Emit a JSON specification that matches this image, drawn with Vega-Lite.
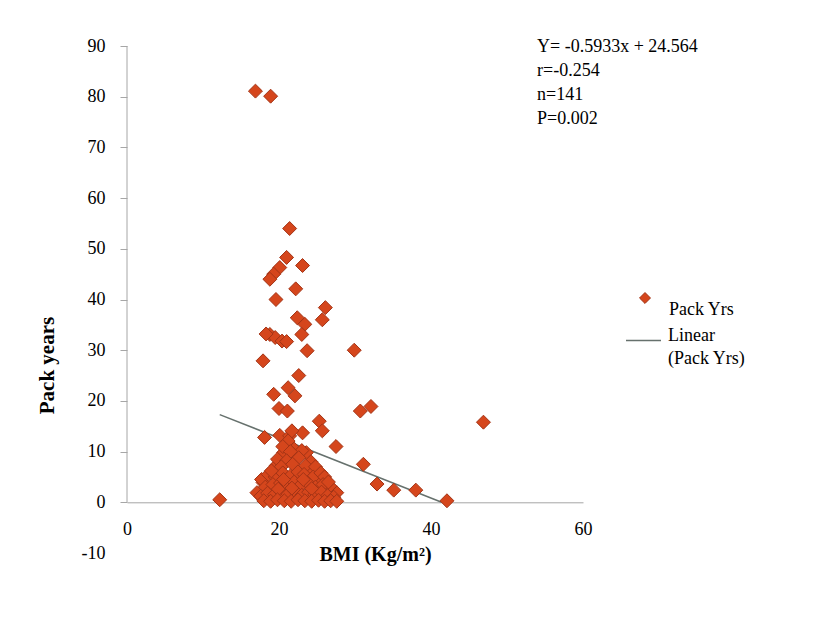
{
  "$schema": "https://vega.github.io/schema/vega-lite/v6.json",
  "width": 456,
  "height": 507,
  "autosize": {"type": "none"},
  "padding": {"left": 127, "top": 46, "right": 233, "bottom": 64},
  "background": "white",
  "config": {
    "view": {"stroke": null},
    "font": "Liberation Serif",
    "style": {"guide-label": {"lineHeight": 23}}
  },
  "datasets": {
    "points": [
      {"bmi": 16.9, "packyrs": 81.1}, {"bmi": 18.9, "packyrs": 80.1}, {"bmi": 21.4, "packyrs": 54.0},
      {"bmi": 21.0, "packyrs": 48.3}, {"bmi": 20.1, "packyrs": 46.3}, {"bmi": 19.3, "packyrs": 45.0},
      {"bmi": 18.8, "packyrs": 44.0}, {"bmi": 23.1, "packyrs": 46.7}, {"bmi": 22.2, "packyrs": 42.1},
      {"bmi": 19.6, "packyrs": 40.0}, {"bmi": 26.1, "packyrs": 38.4}, {"bmi": 25.7, "packyrs": 36.0},
      {"bmi": 22.4, "packyrs": 36.4}, {"bmi": 23.4, "packyrs": 35.1}, {"bmi": 23.0, "packyrs": 33.1},
      {"bmi": 18.8, "packyrs": 33.1}, {"bmi": 19.5, "packyrs": 32.5}, {"bmi": 20.4, "packyrs": 31.8},
      {"bmi": 18.3, "packyrs": 33.2}, {"bmi": 21.0, "packyrs": 31.7}, {"bmi": 23.7, "packyrs": 29.9},
      {"bmi": 17.9, "packyrs": 27.9}, {"bmi": 22.6, "packyrs": 25.0}, {"bmi": 19.3, "packyrs": 21.3},
      {"bmi": 21.2, "packyrs": 22.6}, {"bmi": 22.1, "packyrs": 21.0}, {"bmi": 20.0, "packyrs": 18.5},
      {"bmi": 21.1, "packyrs": 18.0}, {"bmi": 25.3, "packyrs": 16.0}, {"bmi": 25.7, "packyrs": 14.1},
      {"bmi": 27.5, "packyrs": 11.0}, {"bmi": 18.1, "packyrs": 12.8}, {"bmi": 20.1, "packyrs": 13.2},
      {"bmi": 21.4, "packyrs": 13.1}, {"bmi": 23.1, "packyrs": 13.7}, {"bmi": 19.6, "packyrs": 7.2},
      {"bmi": 12.2, "packyrs": 0.5}, {"bmi": 17.1, "packyrs": 1.9}, {"bmi": 17.9, "packyrs": 3.9},
      {"bmi": 29.9, "packyrs": 30.0}, {"bmi": 30.7, "packyrs": 18.0}, {"bmi": 32.1, "packyrs": 18.9},
      {"bmi": 46.9, "packyrs": 15.8}, {"bmi": 31.1, "packyrs": 7.5}, {"bmi": 32.9, "packyrs": 3.6},
      {"bmi": 35.1, "packyrs": 2.4}, {"bmi": 38.0, "packyrs": 2.4}, {"bmi": 42.1, "packyrs": 0.3},
      {"bmi": 27.6, "packyrs": 1.9}, {"bmi": 26.7, "packyrs": 3.2}, {"bmi": 21.2, "packyrs": 12.1},
      {"bmi": 20.6, "packyrs": 9.8}, {"bmi": 22.3, "packyrs": 9.5}, {"bmi": 23.6, "packyrs": 9.8},
      {"bmi": 24.1, "packyrs": 6.5}, {"bmi": 17.7, "packyrs": 4.5}, {"bmi": 25.4, "packyrs": 4.5},
      {"bmi": 21.7, "packyrs": 14.1},
      {"bmi": 20.5, "packyrs": 11.0}, {"bmi": 22.0, "packyrs": 10.5}, {"bmi": 23.0, "packyrs": 10.2},
      {"bmi": 21.5, "packyrs": 10.0}, {"bmi": 19.8, "packyrs": 8.5}, {"bmi": 21.0, "packyrs": 8.2},
      {"bmi": 22.6, "packyrs": 8.8}, {"bmi": 24.2, "packyrs": 8.0}, {"bmi": 20.3, "packyrs": 7.0},
      {"bmi": 23.5, "packyrs": 7.2}, {"bmi": 21.8, "packyrs": 7.5}, {"bmi": 24.8, "packyrs": 7.0},
      {"bmi": 18.6, "packyrs": 5.5}, {"bmi": 19.5, "packyrs": 5.0}, {"bmi": 20.5, "packyrs": 5.8},
      {"bmi": 21.5, "packyrs": 5.2}, {"bmi": 22.5, "packyrs": 6.0}, {"bmi": 23.3, "packyrs": 5.5},
      {"bmi": 24.5, "packyrs": 5.0}, {"bmi": 25.5, "packyrs": 5.8}, {"bmi": 26.0, "packyrs": 5.0},
      {"bmi": 19.0, "packyrs": 6.2}, {"bmi": 18.2, "packyrs": 3.0}, {"bmi": 19.2, "packyrs": 3.5},
      {"bmi": 20.2, "packyrs": 3.8}, {"bmi": 21.0, "packyrs": 3.2}, {"bmi": 22.0, "packyrs": 4.0},
      {"bmi": 22.8, "packyrs": 3.3}, {"bmi": 23.8, "packyrs": 3.8}, {"bmi": 24.8, "packyrs": 3.0},
      {"bmi": 25.8, "packyrs": 3.5}, {"bmi": 26.5, "packyrs": 4.0}, {"bmi": 20.6, "packyrs": 4.5},
      {"bmi": 23.2, "packyrs": 4.5}, {"bmi": 17.6, "packyrs": 1.2}, {"bmi": 18.5, "packyrs": 1.8},
      {"bmi": 19.4, "packyrs": 1.5}, {"bmi": 20.3, "packyrs": 2.0}, {"bmi": 21.2, "packyrs": 1.6},
      {"bmi": 22.1, "packyrs": 2.2}, {"bmi": 23.0, "packyrs": 1.4}, {"bmi": 23.9, "packyrs": 2.0},
      {"bmi": 24.7, "packyrs": 1.5}, {"bmi": 25.6, "packyrs": 2.0}, {"bmi": 26.4, "packyrs": 1.3},
      {"bmi": 27.2, "packyrs": 1.0}, {"bmi": 19.9, "packyrs": 2.6}, {"bmi": 21.7, "packyrs": 2.8},
      {"bmi": 24.3, "packyrs": 2.7}, {"bmi": 18.0, "packyrs": 0.3}, {"bmi": 18.9, "packyrs": 0.2},
      {"bmi": 19.8, "packyrs": 0.5}, {"bmi": 20.7, "packyrs": 0.3}, {"bmi": 21.6, "packyrs": 0.2},
      {"bmi": 22.5, "packyrs": 0.5}, {"bmi": 23.4, "packyrs": 0.3}, {"bmi": 24.3, "packyrs": 0.2},
      {"bmi": 25.2, "packyrs": 0.4}, {"bmi": 26.0, "packyrs": 0.2}, {"bmi": 26.8, "packyrs": 0.3},
      {"bmi": 27.6, "packyrs": 0.2}
    ],
    "trend": [
      {"bmi": 12.2, "packyrs": 17.3},
      {"bmi": 41.4, "packyrs": 0.0}
    ],
    "stats": [
      {"lines": ["Y= -0.5933x + 24.564", "r=-0.254", "n=141", "P=0.002"]}
    ]
  },
  "layer": [
    {
      "data": {"values": [{}]},
      "mark": {"type": "rule", "color": "#a6a6a6", "strokeWidth": 1},
      "encoding": {
        "x": {"datum": 0, "type": "quantitative"},
        "y": {"datum": 0, "type": "quantitative"},
        "y2": {"datum": 90}
      }
    },
    {
      "data": {"name": "trend"},
      "mark": {"type": "line", "strokeWidth": 1.5},
      "encoding": {
        "x": {"field": "bmi", "type": "quantitative"},
        "y": {"field": "packyrs", "type": "quantitative"},
        "stroke": {
          "datum": "Linear (Pack Yrs)",
          "scale": {"range": ["#66716d"]},
          "legend": {
            "orient": "none", "legendX": 498, "legendY": 276, "title": null, "padding": 0,
            "symbolType": "stroke", "symbolSize": 1225, "symbolStrokeWidth": 1.5,
            "labelExpr": "['Linear', '(Pack Yrs)']",
            "labelFont": "Liberation Serif", "labelFontSize": 18, "labelColor": "black",
            "labelOffset": 6, "labelBaseline": "alphabetic", "labelLimit": 0
          }
        }
      }
    },
    {
      "data": {"name": "points"},
      "mark": {"type": "point", "shape": "diamond", "filled": true, "size": 195, "stroke": "#a33416", "strokeWidth": 1, "opacity": 1},
      "encoding": {
        "x": {
          "field": "bmi", "type": "quantitative",
          "scale": {"domain": [0, 60], "nice": false, "zero": false},
          "axis": {
            "title": "BMI (Kg/m²)", "values": [0, 20, 40, 60], "offset": -50.7,
            "ticks": false, "domainColor": "#a6a6a6", "grid": false, "labelFlush": false,
            "labelFont": "Liberation Serif", "labelFontSize": 18, "labelColor": "black", "labelPadding": 18,
            "titleFont": "Liberation Serif", "titleFontSize": 20, "titleFontWeight": "bold", "titleColor": "black",
            "titleX": 248, "titleY": 52, "titleAlign": "center", "titleBaseline": "middle"
          }
        },
        "y": {
          "field": "packyrs", "type": "quantitative",
          "scale": {"domain": [-10, 90], "nice": false, "zero": false},
          "axis": {
            "title": "Pack years", "values": [-10, 0, 10, 20, 30, 40, 50, 60, 70, 80, 90],
            "labelExpr": "'' + datum.value",
            "domain": false, "grid": false, "tickSize": 7, "tickColor": "#a6a6a6",
            "tickOpacity": {"condition": {"test": "datum.value < 0", "value": 0}, "value": 1},
            "labelFont": "Liberation Serif", "labelFontSize": 18, "labelColor": "black", "labelPadding": 15,
            "titleFont": "Liberation Serif", "titleFontSize": 21, "titleFontWeight": "bold", "titleColor": "black",
            "titleX": -80, "titleY": 319, "titleAlign": "center", "titleBaseline": "middle"
          }
        },
        "fill": {
          "datum": "Pack Yrs",
          "scale": {"range": ["#d5461c"]},
          "legend": {
            "orient": "none", "legendX": 509, "legendY": 243, "title": null, "padding": 0,
            "symbolType": "diamond", "symbolSize": 120, "symbolStrokeColor": "#a33416", "symbolStrokeWidth": 1,
            "labelFont": "Liberation Serif", "labelFontSize": 18, "labelColor": "black",
            "labelOffset": 15, "labelBaseline": "line-top"
          }
        }
      }
    },
    {
      "data": {"name": "stats"},
      "mark": {"type": "text", "align": "left", "baseline": "top", "font": "Liberation Serif", "fontSize": 18, "lineHeight": 24, "color": "black"},
      "encoding": {
        "x": {"datum": 53.95, "type": "quantitative"},
        "y": {"datum": 91.5, "type": "quantitative"},
        "text": {"field": "lines"}
      }
    }
  ]
}
